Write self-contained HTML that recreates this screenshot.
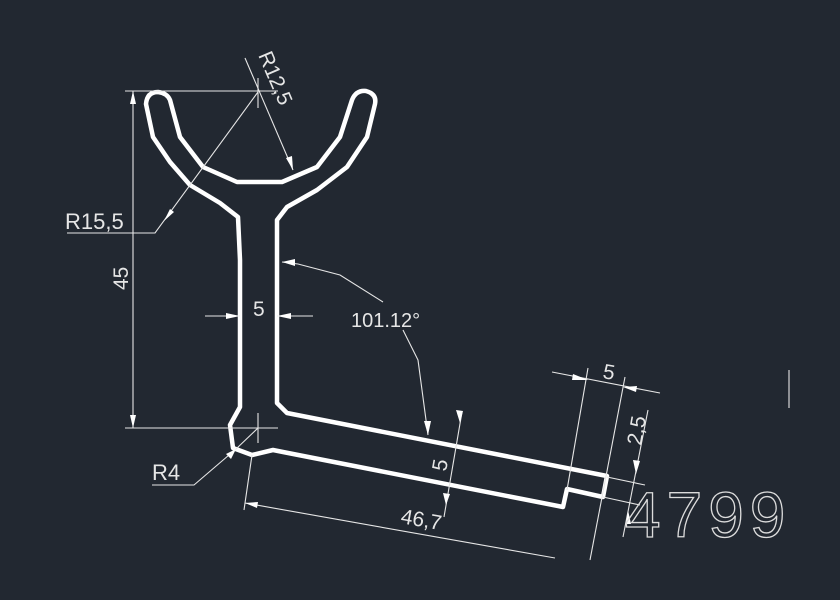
<!DOCTYPE html>
<html><head><style>
html,body{margin:0;padding:0;background:#222831;}
svg{display:block}
text{font-family:"Liberation Sans",sans-serif;fill:#e6e6e6}
</style></head><body>
<svg width="840" height="600" viewBox="0 0 840 600" xmlns="http://www.w3.org/2000/svg">
<rect width="840" height="600" fill="#222831"/>
<path d="M240,260 L238,217 L220,203 L190,185 L170,162 L153,137 L146,104 Q147,92 158,92 Q167,93 170,100 L180,137 L203,167 L237,182 L282,182 L317,167 L340,137 L352,100 Q356,90 366,91 Q377,94 375,104 L367,137 L347,167 L317,190 L287,207 L277,220 L277,403 L287,413 L607,476 L603,497 L567,489 L563,507 L283,452 L273,450 L252,455 L233,448 L230,425 L240,407 Z" fill="none" stroke="#ffffff" stroke-width="4.5" stroke-linejoin="round"/>
<g stroke="#e6e6e6" stroke-width="1.1" fill="none">
<line x1="125" y1="91" x2="278" y2="91"/>
<line x1="125" y1="428" x2="278" y2="428"/>
<line x1="133" y1="91" x2="133" y2="428"/>
<line x1="258" y1="78" x2="258" y2="108"/>
<line x1="258" y1="413" x2="258" y2="443"/>
<line x1="240" y1="428" x2="276" y2="428"/>
<polyline points="258,92 155,233 67,233"/>
<line x1="245" y1="58" x2="293" y2="170"/>
<line x1="205" y1="316" x2="240" y2="316"/>
<line x1="277" y1="316" x2="313" y2="316"/>
<polyline points="282,262 298,264 340,275 383,302"/>
<polyline points="403,330 418,360 428,435"/>
<polyline points="152,485 194,485 236,449"/>
<line x1="258" y1="428" x2="236" y2="449"/>
<line x1="252" y1="455" x2="244" y2="510"/>
<line x1="245" y1="503" x2="555" y2="558"/>
<line x1="462" y1="412" x2="444" y2="517"/>
<line x1="552" y1="372" x2="660" y2="393"/>
<line x1="588" y1="368" x2="567" y2="490"/>
<line x1="625" y1="377" x2="590" y2="560"/>
<line x1="648" y1="410" x2="623" y2="537"/>
<line x1="607" y1="477" x2="645" y2="485"/>
<line x1="603" y1="497" x2="640" y2="505"/>
<line x1="789" y1="370" x2="789" y2="408"/>
</g>
<g fill="#ffffff">
<polygon points="133,91 130,104 136,104"/>
<polygon points="133,428 130,415 136,415"/>
<polygon points="293,170 286,158 292,156"/>
<polygon points="164,221 170,209 174,212"/>
<polygon points="240,316 226,313 226,319"/>
<polygon points="277,316 291,313 291,319"/>
<polygon points="282,262 295,259 295,266"/>
<polygon points="428,435 424,421 431,421"/>
<polygon points="236,449 226,454 231,459"/>
<polygon points="245,503 258,502 257,508"/>
<polygon points="460,423 456,410 463,411"/>
<polygon points="446,505 443,493 450,494"/>
<polygon points="588,380 573,374 572,380"/>
<polygon points="623,387 637,386 636,392"/>
<polygon points="636,474 633,460 640,461"/>
<polygon points="628,510 626,524 631,524"/>
</g>
<text x="253" y="316" font-size="21">5</text>
<text x="351" y="327" font-size="20">101.12°</text>
<text x="65" y="229" font-size="22">R15,5</text>
<text x="152" y="480" font-size="22">R4</text>
<text font-size="21" transform="translate(258,55) rotate(67)">R12,5</text>
<text font-size="21" transform="translate(128,290) rotate(-90)">45</text>
<text font-size="21" transform="translate(400,523) rotate(10)">46,7</text>
<text font-size="21" transform="translate(446,472) rotate(-80)">5</text>
<text font-size="21" transform="translate(602,378) rotate(10)">5</text>
<text font-size="21" transform="translate(641,446) rotate(-80)">2,5</text>
<text x="625" y="537" font-size="64" letter-spacing="6" style="fill:none;stroke:#dcdcdc;stroke-width:1.3">4799</text>
</svg>
</body></html>
